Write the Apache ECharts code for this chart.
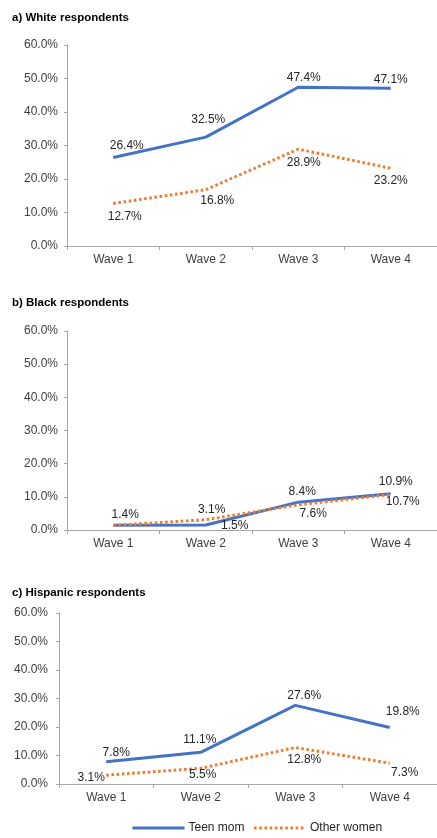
<!DOCTYPE html>
<html><head><meta charset="utf-8">
<script src="https://cdn.jsdelivr.net/npm/echarts@6/dist/echarts.min.js"></script>
<style>html,body{margin:0;padding:0;background:#fff}#c{width:437px;height:838px}</style>
</head><body><div id="c"></div>
<script>
const categories = ['Wave 1', 'Wave 2', 'Wave 3', 'Wave 4'];
const panelTitles = ['a) White respondents', 'b) Black respondents', 'c) Hispanic respondents'];
const seriesNames = ['Teen mom', 'Other women'];
const whiteTeen = [26.4, 32.5, 47.4, 47.1];
const whiteOther = [12.7, 16.8, 28.9, 23.2];
const blackTeen = [1.4, 1.5, 8.4, 10.9];
const blackOther = [1.4, 3.1, 7.6, 10.7];
const hispTeen = [7.8, 11.1, 27.6, 19.8];
const hispOther = [3.1, 5.5, 12.8, 7.3];
const yTicks = [0, 10, 20, 30, 40, 50, 60];

// layout (label offsets relative to the point, hidden labels)
const grids = [
  {left: 67, top: 45, width: 380, height: 201},
  {left: 67, top: 331, width: 380, height: 199},
  {left: 59, top: 613, width: 392, height: 171}
];
const yLabelMargins = [9, 9, 11];
const titleTops = [7, 292, 582];
const labelOff = [
  [[[13.5,-11.6],[2.5,-17],[5.5,-10],[0,-9]], [[11.5,13.5],[11.5,11],[5.5,14],[0,12]]],
  [[[12,-11],[29,1],[4,-10],[5,-12]], [[0,0],[6,-10],[15,8.5],[12,7]]],
  [[[10,-9],[-1,-13],[9,-10],[13,-16]], [[-15,3],[2,6],[9,12],[15,9]]]
];
const hiddenLabels = {'1-1-0': true};
const panelData = [[whiteTeen, whiteOther], [blackTeen, blackOther], [hispTeen, hispOther]];
const colors = ['#4472C4', '#ED7D31'];
const font = 'Liberation Sans, Arial, sans-serif';

const option = {
  animation: false,
  backgroundColor: '#fff',
  title: panelTitles.map((t, i) => ({
    text: t, left: 7, top: titleTops[i],
    textStyle: {fontFamily: font, fontSize: 11.5, fontWeight: 'bold', color: '#000'}
  })),
  legend: {
    left: 126, top: 817, itemWidth: 52, itemHeight: 10, itemGap: 8,
    data: seriesNames,
    lineStyle: {width: 3},
    textStyle: {fontFamily: font, fontSize: 12, color: '#262626', padding: [0,0,0,-1]}
  },
  grid: grids.map(g => Object.assign({containLabel: false}, g)),
  xAxis: grids.map((g, i) => ({
    type: 'category', gridIndex: i, data: categories,
    axisLine: {lineStyle: {color: '#a6a6a6', width: 1}},
    axisTick: {show: true, length: 4, lineStyle: {color: '#a6a6a6'}},
    axisLabel: {fontFamily: font, fontSize: 12, color: '#404040', margin: 8}
  })),
  yAxis: grids.map((g, i) => ({
    type: 'value', gridIndex: i, min: yTicks[0], max: yTicks[yTicks.length-1], interval: 10,
    splitLine: {show: false},
    axisLine: {show: true, lineStyle: {color: '#a6a6a6', width: 1}},
    axisTick: {show: true, length: 3, lineStyle: {color: '#a6a6a6'}},
    axisLabel: {fontFamily: font, fontSize: 12, color: '#404040', margin: yLabelMargins[i],
      formatter: v => v.toFixed(1) + '%'}
  })),
  series: []
};

panelData.forEach((pair, p) => {
  pair.forEach((vals, s) => {
    option.series.push({
      type: 'line', name: seriesNames[s], xAxisIndex: p, yAxisIndex: p,
      symbol: 'circle', symbolSize: 1,
      itemStyle: {color: 'rgba(0,0,0,0)'},
      lineStyle: s === 0
        ? {color: colors[0], width: 3, type: 'solid'}
        : {color: colors[1], width: 3, type: [2.6, 2.6], cap: 'butt'},
      z: s === 0 ? 3 : 4,
      data: vals.map((v, k) => ({
        value: v,
        label: {
          show: !hiddenLabels[p + '-' + s + '-' + k],
          position: 'inside',
          offset: labelOff[p][s][k],
          formatter: v.toFixed(1) + '%',
          fontFamily: font, fontSize: 12, color: '#262626'
        }
      }))
    });
  });
});

const chart = echarts.init(document.getElementById('c'), null, {renderer: 'canvas'});
chart.setOption(option);
</script></body></html>
